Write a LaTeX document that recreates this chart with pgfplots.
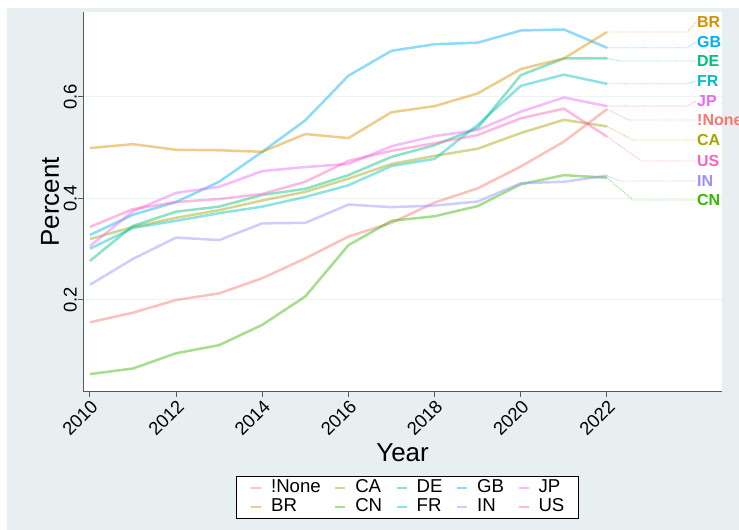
\documentclass[border=0pt]{standalone}
\usepackage{pgfplots}
\pgfplotsset{compat=1.18}
\usepackage{fontspec}
\setmainfont{Liberation Sans}
\definecolor{bg}{RGB}{231,239,241}
\definecolor{gridc}{RGB}{236,243,243}
\definecolor{cNone}{HTML}{F8766D}
\definecolor{cBR}{HTML}{D89000}
\definecolor{cCA}{HTML}{A3A500}
\definecolor{cCN}{HTML}{39B600}
\definecolor{cDE}{HTML}{00BF7D}
\definecolor{cFR}{HTML}{00BFC4}
\definecolor{cGB}{HTML}{00B0F6}
\definecolor{cIN}{HTML}{9590FF}
\definecolor{cJP}{HTML}{E76BF3}
\definecolor{cUS}{HTML}{FF62BC}
\tikzset{mainln/.style={line width=2.5bp, opacity=0.45, solid},
         connln/.style={line width=0.9bp, densely dotted, opacity=0.5}}
\begin{document}
\begin{tikzpicture}[x=1bp,y=1bp]
\fill[white] (0,0) rectangle (739,530);
\fill[bg] (7,0) rectangle (739,522);
\begin{axis}[
  at={(83bp,138bp)}, anchor=south west,
  scale only axis, width=639bp, height=380bp,
  xmin=2009.84, xmax=2024.67, ymin=0.0187, ymax=0.7675,
  axis x line*=bottom, axis y line*=left,
  axis line style={draw=black!65, line width=1bp, -},
  axis background/.style={fill=white},
  xtick={2010,2012,...,2022}, ytick={0.2,0.4,0.6},
  /pgf/number format/1000 sep={},
  /pgf/number format/assume math mode=true,
  tick align=outside, major tick length=5bp,
  tick style={draw=black!65, line width=1bp},
  ymajorgrids, grid style={draw=gridc, line width=1bp},
  xticklabel style={rotate=45, anchor=north east, inner sep=1bp, font=\fontsize{18.5}{20}\selectfont},
  yticklabel style={rotate=90, anchor=south, inner sep=1bp, font=\fontsize{18.5}{20}\selectfont},
  xlabel={Year}, ylabel={Percent},
  label style={font=\fontsize{26}{28}\selectfont},
  xlabel style={at={(axis description cs:0.5,-0.1605)}, anchor=center},
  ylabel style={at={(axis description cs:-0.0516,0.5)}, anchor=center},
  clip=false,
  legend columns=5,
  legend image code/.code={\draw[#1, line width=2bp] (0bp,0bp) -- (10bp,0bp);},
  legend style={at={(axis description cs:0.2394,-0.2211)}, anchor=north west,
    draw=black, line width=1.2bp, fill=white, inner xsep=13.5bp, inner ysep=2bp,
    font=\fontsize{18.7}{19}\selectfont,
    nodes={inner xsep=1bp, inner ysep=0bp, text height=14bp, text depth=5bp},
    /tikz/every odd column/.append style={column sep=8bp},
    /tikz/every even column/.append style={column sep=12.5bp}},
  legend cell align=left,
]
\addplot[mainln, color=cNone] coordinates {(2010,0.156)(2011,0.175)(2012,0.200)(2013,0.213)(2014,0.243)(2015,0.282)(2016,0.325)(2017,0.352)(2018,0.392)(2019,0.420)(2020,0.463)(2021,0.512)(2022,0.576)};
\addlegendentry{!None}
\addplot[mainln, color=cCA] coordinates {(2010,0.320)(2011,0.344)(2012,0.362)(2013,0.377)(2014,0.396)(2015,0.413)(2016,0.439)(2017,0.468)(2018,0.484)(2019,0.498)(2020,0.529)(2021,0.555)(2022,0.542)};
\addlegendentry{CA}
\addplot[mainln, color=cDE] coordinates {(2010,0.277)(2011,0.346)(2012,0.374)(2013,0.384)(2014,0.407)(2015,0.419)(2016,0.446)(2017,0.482)(2018,0.505)(2019,0.539)(2020,0.643)(2021,0.676)(2022,0.676)};
\addlegendentry{DE}
\addplot[mainln, color=cGB] coordinates {(2010,0.328)(2011,0.368)(2012,0.393)(2013,0.433)(2014,0.492)(2015,0.554)(2016,0.642)(2017,0.691)(2018,0.704)(2019,0.707)(2020,0.731)(2021,0.733)(2022,0.697)};
\addlegendentry{GB}
\addplot[mainln, color=cJP] coordinates {(2010,0.306)(2011,0.375)(2012,0.411)(2013,0.423)(2014,0.454)(2015,0.462)(2016,0.468)(2017,0.503)(2018,0.523)(2019,0.535)(2020,0.571)(2021,0.599)(2022,0.582)};
\addlegendentry{JP}
\addplot[mainln, color=cBR] coordinates {(2010,0.4995)(2011,0.507)(2012,0.496)(2013,0.495)(2014,0.492)(2015,0.527)(2016,0.519)(2017,0.570)(2018,0.582)(2019,0.607)(2020,0.655)(2021,0.676)(2022,0.728)};
\addlegendentry{BR}
\addplot[mainln, color=cCN] coordinates {(2010,0.054)(2011,0.065)(2012,0.095)(2013,0.111)(2014,0.151)(2015,0.207)(2016,0.308)(2017,0.356)(2018,0.365)(2019,0.385)(2020,0.428)(2021,0.446)(2022,0.441)};
\addlegendentry{CN}
\addplot[mainln, color=cFR] coordinates {(2010,0.301)(2011,0.342)(2012,0.356)(2013,0.371)(2014,0.384)(2015,0.403)(2016,0.426)(2017,0.464)(2018,0.478)(2019,0.545)(2020,0.622)(2021,0.644)(2022,0.626)};
\addlegendentry{FR}
\addplot[mainln, color=cIN] coordinates {(2010,0.230)(2011,0.281)(2012,0.323)(2013,0.318)(2014,0.351)(2015,0.352)(2016,0.388)(2017,0.383)(2018,0.386)(2019,0.394)(2020,0.430)(2021,0.433)(2022,0.445)};
\addlegendentry{IN}
\addplot[mainln, color=cUS] coordinates {(2010,0.344)(2011,0.379)(2012,0.393)(2013,0.399)(2014,0.409)(2015,0.433)(2016,0.474)(2017,0.494)(2018,0.509)(2019,0.525)(2020,0.558)(2021,0.577)(2022,0.522)};
\addlegendentry{US}
% connectors
\addplot[forget plot, connln, color=cBR] coordinates {(2022,0.728)(2023.86,0.728)(2024.07,0.7478)};
\addplot[forget plot, connln, color=cGB] coordinates {(2022,0.697)(2023.86,0.697)(2024.07,0.7084)};
\addplot[forget plot, connln, color=cDE] coordinates {(2022,0.676)(2022.3,0.6709)(2024.07,0.6709)};
\addplot[forget plot, connln, color=cFR] coordinates {(2022,0.626)(2023.86,0.626)(2024.07,0.6315)};
\addplot[forget plot, connln, color=cJP] coordinates {(2022,0.582)(2023.86,0.582)(2024.07,0.5921)};
\addplot[forget plot, connln, color=cNone] coordinates {(2022,0.576)(2022.5,0.5547)(2024.07,0.5547)};
\addplot[forget plot, connln, color=cCA] coordinates {(2022,0.542)(2022.6,0.5153)(2024.07,0.5153)};
\addplot[forget plot, connln, color=cUS] coordinates {(2022,0.522)(2022.8,0.4739)(2024.07,0.4739)};
\addplot[forget plot, connln, color=cIN] coordinates {(2022,0.445)(2022.3,0.4345)(2024.07,0.4345)};
\addplot[forget plot, connln, color=cCN] coordinates {(2022,0.441)(2022.6,0.3970)(2024.07,0.3970)};
\begin{scope}[every node/.style={anchor=west, inner sep=0pt, font=\bfseries\fontsize{16}{16}\selectfont}]
\node[text=cBR] at (axis cs:2024.09,0.7478) {BR};
\node[text=cGB] at (axis cs:2024.09,0.7084) {GB};
\node[text=cDE] at (axis cs:2024.09,0.6709) {DE};
\node[text=cFR] at (axis cs:2024.09,0.6315) {FR};
\node[text=cJP] at (axis cs:2024.09,0.5921) {JP};
\node[text=cNone] at (axis cs:2024.09,0.5547) {!None};
\node[text=cCA] at (axis cs:2024.09,0.5153) {CA};
\node[text=cUS] at (axis cs:2024.09,0.4739) {US};
\node[text=cIN] at (axis cs:2024.09,0.4345) {IN};
\node[text=cCN] at (axis cs:2024.09,0.3970) {CN};
\end{scope}
\end{axis}
\pgfresetboundingbox
\useasboundingbox (0,0) rectangle (739,530);
\end{tikzpicture}
\end{document}
